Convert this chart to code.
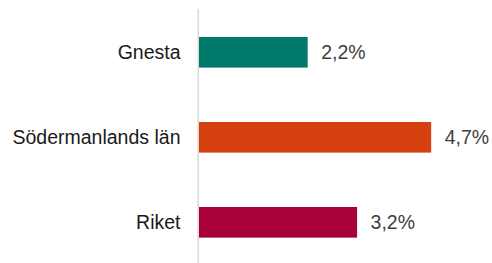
<!DOCTYPE html>
<html>
<head>
<meta charset="utf-8">
<script src="https://cdn.jsdelivr.net/npm/d3@7"></script>
<style>
  body { margin: 0; background: #fff; }
  svg { display: block; font-family: "Liberation Sans", Arial, sans-serif; }
</style>
</head>
<body>
<div id="chart"></div>
<script>
const width = 492;
const height = 263;

// data
const categories = ["Gnesta", "Södermanlands län", "Riket"];
const values = [2.2, 4.7, 3.2];
const valueLabels = ["2,2%", "4,7%", "3,2%"];
const colors = ["#007a6b", "#d5400f", "#a8003b"];

const margin = { top: 9, right: 46, bottom: 0, left: 199 };

const svg = d3
  .select("#chart")
  .append("svg")
  .attr("width", width)
  .attr("height", height)
  .attr("viewBox", [0, 0, width, height]);

let x = d3
  .scaleLinear()
  .domain([0, 5])
  .range([margin.left, width - margin.right]);

let y = d3
  .scaleBand()
  .domain(categories)
  .range([9.8, 264.8])
  .paddingInner(0.64)
  .paddingOuter(0.32);

const data = categories.map((c, i) => ({
  name: c,
  value: values[i],
  label: valueLabels[i],
  color: colors[i],
}));

// bars
svg
  .append("g")
  .selectAll("rect")
  .data(data)
  .join("rect")
  .attr("x", x(0))
  .attr("y", (d) => y(d.name))
  .attr("width", (d) => x(d.value) - x(0))
  .attr("height", y.bandwidth())
  .attr("fill", (d) => d.color);

// axis line
svg
  .append("line")
  .attr("x1", x(0) - 0.8)
  .attr("x2", x(0) - 0.8)
  .attr("y1", margin.top)
  .attr("y2", height)
  .attr("stroke", "#d9d9d9")
  .attr("stroke-width", 1.5);

// category labels
svg
  .append("g")
  .selectAll("text")
  .data(data)
  .join("text")
  .attr("x", x(0) - 18.5)
  .attr("y", (d) => y(d.name) + y.bandwidth() / 2)
  .attr("dy", "0.35em")
  .attr("text-anchor", "end")
  .attr("font-size", "19.5px")
  .attr("fill", "#1a1a1a")
  .text((d) => d.name);

// value labels
svg
  .append("g")
  .selectAll("text")
  .data(data)
  .join("text")
  .attr("x", (d) => x(d.value) + 13.5)
  .attr("y", (d) => y(d.name) + y.bandwidth() / 2)
  .attr("dy", "0.35em")
  .attr("font-size", "19.5px")
  .attr("fill", "#404040")
  .text((d) => d.label);
</script>
</body>
</html>
